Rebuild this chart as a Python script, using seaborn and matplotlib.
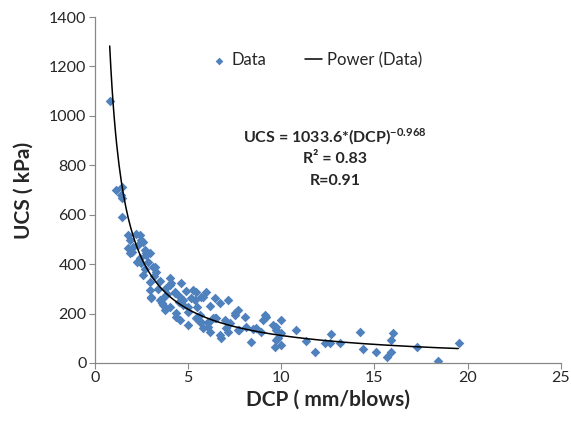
import matplotlib

matplotlib.use("Agg")
import matplotlib.pyplot as plt
import numpy as np
import pandas as pd
import seaborn as sns

# DCP (mm/blows) and UCS (kPa) readings
DCP = [
    0.79, 1.16, 1.47, 1.43, 1.48, 1.47, 1.79, 1.88, 2.41, 2.50,
    1.79, 1.97, 2.32, 2.68, 2.77, 2.95, 2.41, 2.50, 2.86, 3.22,
    2.59, 1.88, 2.77, 2.24, 3.13, 3.30, 2.59, 2.95, 4.02, 4.11,
    4.65, 2.95, 4.29, 5.27, 3.49, 3.04, 3.66, 4.74, 5.00, 5.36,
    4.02, 4.29, 5.99, 3.04, 3.66, 4.56, 5.18, 5.72, 6.43, 3.58,
    4.02, 4.74, 3.75, 4.38, 5.00, 5.63, 4.56, 5.00, 5.63, 6.08,
    6.17, 6.53, 4.38, 5.45, 5.81, 6.70, 7.15, 5.45, 5.72, 6.08,
    6.43, 6.97, 7.51, 7.68, 7.24, 7.06, 7.15, 6.70, 6.79, 5.81,
    7.68, 8.13, 8.67, 9.02, 9.12, 9.20, 9.74, 10.01, 8.40, 9.65,
    9.83, 10.01, 9.56, 9.74, 10.01, 9.74, 10.81, 11.35, 11.80, 12.33,
    12.60, 12.69, 13.14, 14.21, 14.39, 15.10, 15.69, 15.91, 15.87, 15.99,
    17.30, 18.41, 19.52, 8.08, 6.35, 8.49, 8.94, 7.50, 7.72, 6.08,
    3.40, 3.90, 4.50, 3.20, 3.80, 4.90, 5.50, 6.20, 2.70, 3.50,
    2.05, 2.20,
]
UCS = [
    1060, 702, 713, 680, 666, 592, 518, 498, 518, 498,
    464, 450, 477, 457, 437, 444, 425, 403, 410, 390,
    491, 444, 444, 410, 390, 369, 356, 329, 343, 322,
    322, 295, 289, 295, 255, 262, 235, 255, 228, 255,
    316, 282, 289, 268, 262, 268, 262, 268, 262, 241,
    228, 235, 214, 201, 208, 194, 174, 154, 167, 160,
    127, 181, 187, 289, 268, 241, 255, 181, 167, 167,
    181, 174, 201, 214, 160, 140, 127, 113, 100, 140,
    134, 147, 140, 174, 194, 185, 147, 174, 86, 66,
    100, 73, 154, 134, 120, 93, 134, 90, 46, 80,
    80, 117, 80, 124, 57, 43, 26, 43, 93, 120,
    66, 9, 80, 185, 181, 136, 127, 194, 134, 144,
    300, 280, 245, 350, 305, 290, 225, 230, 380, 330,
    470, 520,
]

# power trend line shown on the chart: UCS = A * DCP^B
FIT_A = 1033.6
FIT_B = -0.968
FIT_RANGE = (0.8, 19.5)

POINT_COLOR = "#4F81BD"


def main() -> None:
    sns.set_theme(style="white")
    plt.rcParams.update(
        {
            "font.family": ["Lato", "DejaVu Sans"],
            "mathtext.fontset": "custom",
            "mathtext.rm": "Lato",
            "mathtext.bf": "Lato:bold",
        }
    )

    data = pd.DataFrame({"DCP": DCP, "UCS": UCS})
    fit_x = np.linspace(*FIT_RANGE, 300)
    fit = pd.DataFrame({"DCP": fit_x, "UCS": FIT_A * fit_x ** FIT_B})

    fig = plt.figure(figsize=(5.71, 4.26), dpi=100)
    ax = fig.add_axes([0.166, 0.148, 0.816, 0.812])

    sns.scatterplot(
        data=data, x="DCP", y="UCS", ax=ax, marker="D", s=24,
        color=POINT_COLOR, edgecolor=POINT_COLOR, linewidth=0, label="Data",
    )
    sns.lineplot(
        data=fit, x="DCP", y="UCS", ax=ax, color="black", linewidth=1.1,
        label="Power (Data)",
    )

    ax.set_xlim(0, 25)
    ax.set_ylim(0, 1400)
    ax.set_xticks(range(0, 26, 5))
    ax.set_yticks(range(0, 1401, 200))
    ax.tick_params(axis="both", labelsize=11.5, direction="out", length=4,
                   width=0.8, color="#888888", bottom=True, left=True, pad=2)
    for side in ("top", "right"):
        ax.spines[side].set_visible(False)
    for side in ("left", "bottom"):
        ax.spines[side].set_color("#888888")
        ax.spines[side].set_linewidth(0.9)

    ax.set_xlabel("DCP ( mm/blows)", fontsize=15, fontweight="bold", labelpad=3)
    ax.set_ylabel("UCS ( kPa)", fontsize=15, fontweight="bold", labelpad=11)

    ax.legend(
        loc="center", bbox_to_anchor=(0.475, 0.876), ncol=2, frameon=False,
        fontsize=12, handlelength=1.0, columnspacing=2.3, handletextpad=0.3,
        markerscale=0.8,
    )

    ax.text(12.9, 915, r"UCS = 1033.6*(DCP)$^{\mathbf{-0.968}}$", ha="center",
            va="center", fontsize=11.5, fontweight="bold")
    ax.text(12.9, 826, "R² = 0.83", ha="center", va="center",
            fontsize=11.5, fontweight="bold")
    ax.text(12.9, 737, "R=0.91", ha="center", va="center",
            fontsize=11.5, fontweight="bold")

    fig.savefig("out.png", dpi=100, facecolor="white")
    plt.close(fig)


if __name__ == "__main__":
    main()
